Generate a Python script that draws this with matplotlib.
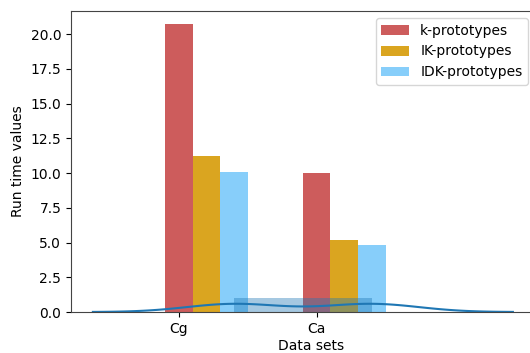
import matplotlib
matplotlib.use("Agg")
import matplotlib.pyplot as plt
import numpy as np

# run times per data set
datasets = ["Cg", "Ca"]
k_proto = [20.7, 10.0]
ik_proto = [11.2, 5.2]
idk_proto = [10.1, 4.8]

bar_width = 0.2
r1 = np.arange(len(datasets))
r2 = r1 + bar_width
r3 = r2 + bar_width

fig = plt.figure(figsize=(5.3, 3.53), dpi=100)
ax = fig.add_axes([71 / 530, 41 / 353, 480 / 530, 301 / 353])

ax.bar(r1, k_proto, width=bar_width, color="indianred", label="k-prototypes")
ax.bar(r2, ik_proto, width=bar_width, color="goldenrod", label="IK-prototypes")
ax.bar(r3, idk_proto, width=bar_width, color="lightskyblue", label="IDK-prototypes")

# distplot-like overlay of the third bar positions
ax.hist(r3, bins=1, density=True, alpha=0.4, color="C0")

# gaussian kde, scott bandwidth as statsmodels computes it
n = len(r3)
iqr = (np.percentile(r3, 75) - np.percentile(r3, 25)) / 1.349
sd = np.std(r3, ddof=1)
bw = 1.059 * min(sd, iqr) * n ** -0.2
grid = np.linspace(r3.min() - 3 * bw, r3.max() + 3 * bw, 100)
dens = np.exp(-0.5 * ((grid[:, None] - r3[None, :]) / bw) ** 2).sum(axis=1)
dens /= n * bw * np.sqrt(2 * np.pi)
ax.plot(grid, dens, color="C0", lw=1.5)

ax.set_xticks(r1)
ax.set_xticklabels(datasets)
ax.set_xlim(-0.784, -0.784 + 480 / 137.7)
ax.set_ylim(0, 21.67)
ax.set_yticks(np.arange(0, 20.1, 2.5))
ax.set_xlabel("Data sets", labelpad=2)
ax.set_ylabel("Run time values")
for s in ax.spines.values():
    s.set_color("#444444")

ax.legend(loc="upper right", bbox_to_anchor=(528 / 530, 1 - 18 / 353),
          bbox_transform=fig.transFigure, borderaxespad=0)

fig.savefig("out.png", dpi=100)
